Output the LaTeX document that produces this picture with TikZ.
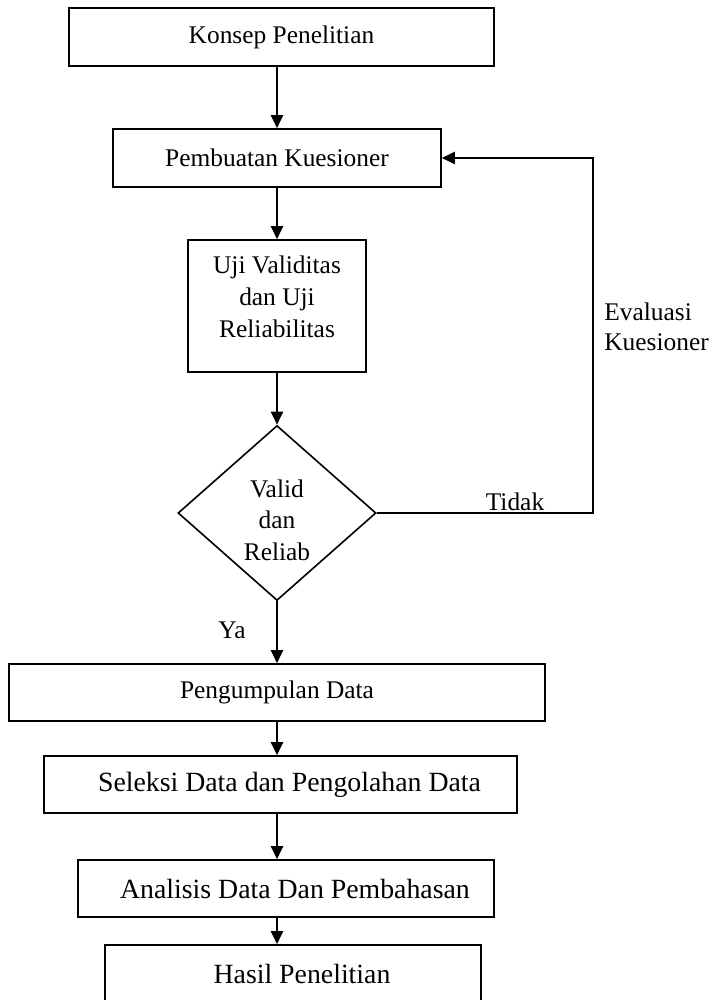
\documentclass[tikz,border=0pt]{standalone}
\usepackage{fontspec}
\setmainfont{Liberation Serif}
\usetikzlibrary{arrows.meta}
\usetikzlibrary{shapes.geometric}

\begin{document}
\begin{tikzpicture}[x=0.5pt, y=-0.5pt,
	box/.style={draw, line width=0.8pt, rectangle, inner sep=0pt, align=center, font=\fontsize{12.7}{16}\selectfont},
	bigbox/.style={box, font=\fontsize{13.9}{16}\selectfont},
	arr/.style={line width=1pt, -{Triangle[length=6.5pt, width=6pt]}},
	lbl/.style={inner sep=0pt, font=\fontsize{12.7}{15}\selectfont}]

	\useasboundingbox (0,0) rectangle (712,1000);

	%research steps, top part
	\node[box, minimum width=212.5pt, minimum height=29pt] (konsep) at (281.5,37) {Konsep Penelitian};
	\node[box, minimum width=164pt, minimum height=29pt] (buat) at (277,158) {Pembuatan Kuesioner};
	\node[box, minimum width=89pt, minimum height=66pt] (uji) at (277,306) {};
	\node[lbl, align=center, font=\fontsize{12.7}{16}\selectfont] (ujitext) at ([yshift=4.5pt]uji.center) {Uji Validitas\\dan Uji\\Reliabilitas};

	%decision
	\node[draw, line width=0.8pt, diamond, inner sep=0pt, minimum width=99pt, minimum height=87.5pt] (valid) at (277,513) {};
	\node[lbl, align=center, font=\fontsize{12.7}{15.75}\selectfont] (validtext) at ([yshift=-3.5pt]valid.center) {Valid\\dan\\Reliab};

	%research steps, bottom part
	\node[box, minimum width=268pt, minimum height=28.5pt] (kumpul) at (277,692.5) {Pengumpulan Data};
	\node[bigbox, minimum width=236.5pt, minimum height=28.5pt] (seleksi) at (280.5,784.5) {\hspace*{9pt}Seleksi Data dan Pengolahan Data};
	\node[bigbox, minimum width=208pt, minimum height=28.5pt] (analisis) at (286,888.5) {\hspace*{9pt}Analisis Data Dan Pembahasan};
	\node[bigbox, minimum width=188pt, minimum height=28.5pt] (hasil) at (293,973.5) {\hspace*{9pt}Hasil Penelitian};

	%main flow
	\draw[arr] (konsep.south -| buat.north) -- (buat.north);
	\draw[arr] (buat.south) -- (uji.north);
	\draw[arr] (uji.south) -- (valid.north);
	\draw[arr] (valid.south) -- (kumpul.north);
	\draw[arr] (kumpul.south) -- (kumpul.south |- seleksi.north);
	\draw[arr] (kumpul.south |- seleksi.south) -- (kumpul.south |- analisis.north);
	\draw[arr] (kumpul.south |- analisis.south) -- (kumpul.south |- hasil.north);

	%loop back when not valid
	\coordinate (balik) at (593,158);
	\draw[arr] (valid.east) -| (balik) -- (buat.east);

	%labels
	\node[lbl] (ya) at (232,630) {Ya};
	\node[lbl] (tidak) at (515,502) {Tidak};
	\node[lbl, anchor=west, align=left] (evaluasi) at (604,327) {Evaluasi\\Kuesioner};

\end{tikzpicture}
\end{document}
